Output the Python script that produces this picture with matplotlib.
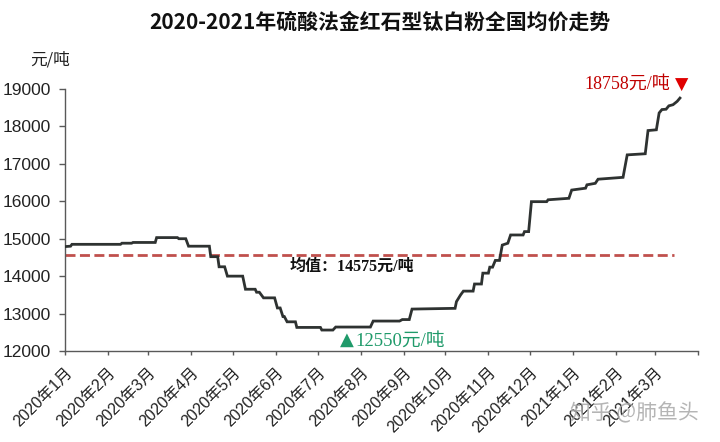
import matplotlib
matplotlib.use('Agg')
import matplotlib.pyplot as plt
import matplotlib.transforms as mtransforms
import pandas as pd

title = "2020-2021年硫酸法金红石型钛白粉全国均价走势"
y_unit = "元/吨"

dates = [
    "2020-01-01", "2020-01-05", "2020-01-06", "2020-02-10", "2020-02-11", "2020-02-18",
    "2020-02-19", "2020-03-06", "2020-03-07", "2020-03-22", "2020-03-23", "2020-03-28",
    "2020-03-30", "2020-04-14", "2020-04-15", "2020-04-20", "2020-04-21", "2020-04-25",
    "2020-04-27", "2020-05-08", "2020-05-10", "2020-05-17", "2020-05-18", "2020-05-20",
    "2020-05-23", "2020-05-31", "2020-06-02", "2020-06-04", "2020-06-06", "2020-06-07",
    "2020-06-09", "2020-06-15",
    "2020-06-16", "2020-07-03", "2020-07-04", "2020-07-12", "2020-07-14", "2020-08-08",
    "2020-08-10", "2020-08-29", "2020-08-31", "2020-09-05", "2020-09-07", "2020-10-08",
    "2020-10-09", "2020-10-12", "2020-10-14", "2020-10-21", "2020-10-22", "2020-10-27", "2020-10-28",
    "2020-11-01", "2020-11-02", "2020-11-04", "2020-11-06", "2020-11-09", "2020-11-11",
    "2020-11-15", "2020-11-17", "2020-11-26", "2020-11-27", "2020-11-30", "2020-12-02",
    "2020-12-13", "2020-12-14", "2020-12-29", "2020-12-31", "2021-01-10", "2021-01-11",
    "2021-01-17", "2021-01-19", "2021-02-06", "2021-02-09", "2021-02-22", "2021-02-24",
    "2021-03-02", "2021-03-04", "2021-03-06", "2021-03-09", "2021-03-11", "2021-03-14",
    "2021-03-17", "2021-03-19",
]
prices = [
    14790, 14800, 14850, 14850, 14880, 14880,
    14900, 14900, 15030, 15030, 15000, 15000,
    14800, 14800, 14520, 14520, 14250, 14250,
    14000, 14000, 13650, 13650, 13570, 13570,
    13420, 13420, 13150, 13150, 12920, 12920,
    12780, 12780,
    12630, 12630, 12560, 12560, 12640, 12640,
    12800, 12800, 12840, 12840, 13120, 13140,
    13320, 13500, 13600, 13600, 13790, 13790, 14080,
    14080, 14240, 14240, 14420, 14420, 14830,
    14880, 15100, 15100, 15190, 15190, 15990,
    15990, 16040, 16080, 16300, 16350, 16440,
    16480, 16590, 16640, 17240, 17270, 17890,
    17910, 18360, 18450, 18460, 18550, 18580,
    18670, 18758,
]
mean_price = 14575
min_price = 12550
max_price = 18758

tick_dates = [
    "2020-01-01", "2020-02-01", "2020-03-01", "2020-04-01", "2020-05-01", "2020-06-01",
    "2020-07-01", "2020-08-01", "2020-09-01", "2020-10-01", "2020-11-01", "2020-12-01",
    "2021-01-01", "2021-02-01", "2021-03-01", "2021-04-01",
]
tick_labels = [
    "2020年1月", "2020年2月", "2020年3月", "2020年4月", "2020年5月", "2020年6月",
    "2020年7月", "2020年8月", "2020年9月", "2020年10月", "2020年11月", "2020年12月",
    "2021年1月", "2021年2月", "2021年3月", "",
]
y_ticks = [12000, 13000, 14000, 15000, 16000, 17000, 18000, 19000]

sans = ['Liberation Sans', 'Noto Sans CJK SC', 'DejaVu Sans']
serif = ['Liberation Serif', 'Noto Sans CJK SC', 'DejaVu Sans']
plt.rcParams['font.family'] = sans

d = pd.to_datetime(dates)
td = pd.to_datetime(tick_dates)

fig = plt.figure(figsize=(7.2, 4.42), dpi=100)
fig.patch.set_facecolor('white')
ax = fig.add_axes([65 / 720, 1 - 351 / 442, 633 / 720, 262 / 442])

ax.plot(d, prices, color='#2e3231', lw=2.0, solid_joinstyle='miter', zorder=3)
ax.plot([td[0], pd.Timestamp("2021-03-15")], [mean_price, mean_price],
        color='#c0504d', lw=2.0, dashes=(3.6, 1.6), zorder=2)

ax.set_xlim(td[0], td[-1])
ax.set_ylim(12000, 19000)
ax.set_yticks(y_ticks)
ax.set_yticklabels([str(v) for v in y_ticks], fontsize=12.5, color='#222222')
ax.set_xticks(td)
ax.set_xticklabels(tick_labels, rotation=45, ha='right', va='top',
                   rotation_mode='anchor', fontsize=11.5, color='#222222')
offset = mtransforms.ScaledTranslation(3 / 100, 0, fig.dpi_scale_trans)
for lbl in ax.get_xticklabels():
    lbl.set_transform(lbl.get_transform() + offset)

for s in ['top', 'right']:
    ax.spines[s].set_visible(False)
for s in ['left', 'bottom']:
    ax.spines[s].set_color('#595959')
    ax.spines[s].set_linewidth(1.0)
ax.tick_params(axis='y', direction='out', length=4.3, width=1, color='#595959', pad=6)
ax.tick_params(axis='x', direction='out', length=3, width=1, color='#595959', pad=7)

ax.text(pd.Timestamp("2020-07-26"), 14250, f"均值：{mean_price}元/吨", ha='center', va='center',
        fontsize=11.5, fontweight='bold', color='#111111', family=serif)
ax.text(pd.Timestamp("2020-07-17"), 12290, "▲", ha='left', va='center',
        fontsize=13, color='#1f9a6a', family=['DejaVu Sans'], clip_on=False)
ax.text(pd.Timestamp("2020-07-28"), 12270, f"{min_price}元/吨", ha='left', va='center',
        fontsize=13.5, color='#1f9a6a', family=serif, clip_on=False)
ax.text(pd.Timestamp("2021-03-12"), 19115, f"{max_price}元/吨", ha='right', va='center',
        fontsize=13, color='#c00000', family=serif, clip_on=False)
ax.text(pd.Timestamp("2021-03-20"), 19120, "▼", ha='center', va='center',
        fontsize=12.5, color='#e00000', family=['DejaVu Sans'], clip_on=False)

fig.text(380 / 720, 1 - 22 / 442, title, ha='center', va='center', fontsize=15,
         fontweight='bold', color='#111111', family=['Noto Sans CJK SC'])
fig.text(30 / 720, 1 - 60 / 442, y_unit, ha='left', va='center', fontsize=12,
         color='#222222', family=['Noto Sans CJK SC'])
fig.text(570 / 720, 1 - 413 / 442, "知乎 @肺鱼头", ha='left', va='center', fontsize=15,
         color='#a8a8a8', alpha=0.85, family=['Noto Sans CJK SC'])

fig.savefig('out.png', dpi=100, facecolor='white')
